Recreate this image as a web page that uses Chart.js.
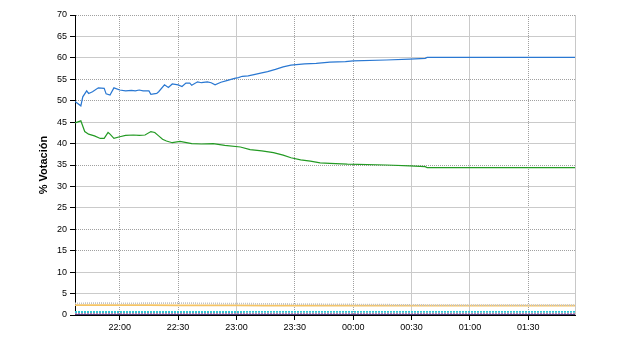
<!DOCTYPE html>
<html>
<head>
<meta charset="utf-8">
<script src="https://cdn.jsdelivr.net/npm/chart.js@4"></script>
<style>
    body { margin: 0; background: #fff; }
    #wrap { width: 640px; height: 350px; }
</style>
</head>
<body>
<div id="wrap"><canvas id="votes" width="640" height="350"></canvas></div>
<script>
// time window shown on the x axis
const axisStart = '21:37';
const axisEnd = '01:54';
const xTickLabels = ['22:00', '22:30', '23:00', '23:30', '00:00', '00:30', '01:00', '01:30'];

// main party (blue)
const blueTimes = ['21:37', '21:40', '21:41', '21:43', '21:44', '21:46', '21:49', '21:52', '21:53', '21:55', '21:57',
    '22:00', '22:03', '22:06', '22:08', '22:10', '22:12', '22:15', '22:16', '22:19', '22:20', '22:23', '22:25', '22:27',
    '22:30', '22:32', '22:34', '22:36', '22:37', '22:40', '22:42', '22:45', '22:47', '22:49', '22:52', '22:55', '22:59',
    '23:01', '23:03', '23:06', '23:09', '23:13', '23:16', '23:20', '23:24', '23:28', '23:35', '23:41', '23:48', '23:56',
    '00:00', '00:17', '00:29', '00:37', '00:38', '01:00', '01:54'];
const blueValues = [49.8, 48.8, 50.9, 52.3, 51.7, 52.1, 53.0, 52.9, 51.6, 51.3, 53.0,
    52.5, 52.3, 52.4, 52.3, 52.5, 52.3, 52.3, 51.5, 51.7, 52.1, 53.7, 53.1, 53.9,
    53.7, 53.3, 54.1, 54.1, 53.6, 54.4, 54.2, 54.4, 54.2, 53.7, 54.3, 54.7, 55.2,
    55.4, 55.7, 55.8, 56.1, 56.5, 56.8, 57.3, 57.9, 58.3, 58.6, 58.7, 59.0, 59.1,
    59.3, 59.5, 59.7, 59.9, 60.1, 60.1, 60.1];

// second party (green)
const greenTimes = ['21:37', '21:40', '21:42', '21:44', '21:47', '21:50', '21:52', '21:54', '21:55', '21:57',
    '22:00', '22:03', '22:07', '22:10', '22:13', '22:16', '22:18', '22:20', '22:22', '22:24', '22:27', '22:31',
    '22:37', '22:42', '22:48', '22:54', '23:02', '23:07', '23:13', '23:19', '23:24', '23:28', '23:33', '23:38',
    '23:43', '23:48', '23:57', '00:17', '00:29', '00:37', '00:38', '01:00', '01:54'];
const greenValues = [44.8, 45.3, 42.8, 42.2, 41.8, 41.2, 41.2, 42.6, 42.2, 41.2,
    41.6, 41.9, 42.0, 41.9, 42.0, 42.8, 42.6, 41.8, 41.0, 40.6, 40.2, 40.5,
    40.0, 39.9, 40.0, 39.6, 39.2, 38.6, 38.3, 37.9, 37.3, 36.7, 36.2, 35.9,
    35.5, 35.4, 35.2, 35.0, 34.8, 34.6, 34.4, 34.4, 34.4];

// small parties
const minorTimes = ['21:37', '21:50', '22:00', '22:15', '22:30', '22:45', '23:00', '23:15', '23:30', '23:45',
    '00:00', '00:15', '00:30', '00:45', '01:00', '01:15', '01:30', '01:54'];
const grayValues = [2.7, 2.8, 2.7, 2.75, 2.8, 2.7, 2.65, 2.6, 2.55, 2.5, 2.45, 2.4, 2.35, 2.3, 2.3, 2.3, 2.3, 2.3];
const yellowValues = [2.3, 2.3, 2.3, 2.3, 2.25, 2.25, 2.25, 2.2, 2.2, 2.2, 2.2, 2.2, 2.2, 2.2, 2.2, 2.2, 2.2, 2.2];
const cyanValues = [0.7, 0.7, 0.7, 0.7, 0.7, 0.7, 0.7, 0.72, 0.72, 0.72, 0.72, 0.75, 0.75, 0.75, 0.75, 0.75, 0.75, 0.75];
const purpleValues = [0.3, 0.3, 0.3, 0.3, 0.3, 0.3, 0.3, 0.3, 0.3, 0.3, 0.3, 0.3, 0.3, 0.3, 0.3, 0.3, 0.3, 0.3];
const navyValues = [0.12, 0.12, 0.12, 0.12, 0.12, 0.12, 0.12, 0.12, 0.12, 0.12, 0.12, 0.12, 0.12, 0.12, 0.12, 0.12, 0.12, 0.12];

// minutes relative to 22:00, times after midnight go on the next day
function toMin(t) {
    let [h, m] = t.split(':').map(Number);
    if (h < 12) h += 24;
    return h * 60 + m - 22 * 60;
}

function points(times, values) {
    return times.map((t, i) => ({ x: toMin(t), y: values[i] }));
}

function line(label, times, values, color, width, dash) {
    return {
        label: label,
        data: points(times, values),
        borderColor: color,
        borderWidth: width,
        borderDash: dash || [],
        pointRadius: 0,
        tension: 0,
        fill: false
    };
}

// the reference grid mixes dotted dark lines and solid light lines
const dottedY = [70, 55, 50, 35, 20, 15];
const dottedX = ['22:00', '22:30', '23:30', '00:00', '01:30'].map(toMin);

const tickFont = { family: '"Liberation Sans", Arial, sans-serif', size: 9 };

const rightEdge = {
    id: 'rightEdge',
    afterDatasetsDraw(chart) {
        const a = chart.chartArea;
        const ctx = chart.ctx;
        ctx.save();
        ctx.strokeStyle = '#c8c8c8';
        ctx.lineWidth = 1;
        ctx.beginPath();
        ctx.moveTo(Math.round(a.right) + 0.5, a.top);
        ctx.lineTo(Math.round(a.right) + 0.5, a.bottom);
        ctx.stroke();
        ctx.restore();
    }
};

const ctx = document.getElementById('votes').getContext('2d');
new Chart(ctx, {
    type: 'line',
    data: {
        datasets: [
            line('navy', minorTimes, navyValues, '#4a3f7a', 1.2),
            line('purple', minorTimes, purpleValues, '#c080b8', 1.2, [2, 1]),
            line('cyan', minorTimes, cyanValues, '#33c6d2', 1.8, [2, 1]),
            line('gray', minorTimes, grayValues, '#c4c4c4', 1.8, [1, 1]),
            line('yellow', minorTimes, yellowValues, '#f5c463', 1.8),
            line('green', greenTimes, greenValues, '#239a23', 1.2),
            line('blue', blueTimes, blueValues, '#2a78d2', 1.2)
        ]
    },
    options: {
        responsive: false,
        animation: false,
        devicePixelRatio: 1,
        layout: { padding: { top: 15, right: 65, left: 0, bottom: 0 } },
        plugins: {
            legend: { display: false },
            tooltip: { enabled: false }
        },
        scales: {
            x: {
                type: 'linear',
                min: toMin(axisStart),
                max: toMin(axisEnd),
                afterBuildTicks: axis => {
                    axis.ticks = xTickLabels.map(t => ({ value: toMin(t) }));
                },
                afterFit: s => { s.height = 35; },
                ticks: {
                    color: '#000',
                    font: tickFont,
                    padding: 2,
                    maxRotation: 0,
                    autoSkip: false,
                    callback: (v, i) => xTickLabels[i]
                },
                grid: {
                    color: c => (c.tick && dottedX.includes(c.tick.value)) ? '#a0a0a0' : '#cacaca',
                    tickColor: '#000',
                    tickLength: 5
                },
                border: {
                    color: '#000',
                    dash: c => (c.tick && dottedX.includes(c.tick.value)) ? [1, 1] : []
                }
            },
            y: {
                min: 0,
                max: 70,
                afterFit: s => { s.width = 75; },
                ticks: {
                    stepSize: 5,
                    color: '#000',
                    font: tickFont,
                    padding: 3
                },
                grid: {
                    color: c => {
                        if (!c.tick || c.tick.value === 0) return 'rgba(0,0,0,0)';
                        return dottedY.includes(c.tick.value) ? '#a0a0a0' : '#cacaca';
                    },
                    tickColor: '#000',
                    tickLength: 5
                },
                border: {
                    color: '#000',
                    dash: c => (c.tick && dottedY.includes(c.tick.value)) ? [1, 1] : []
                },
                title: {
                    display: true,
                    text: '% Votación',
                    color: '#000',
                    font: { family: '"Liberation Sans", Arial, sans-serif', size: 11, weight: 'bold' },
                    padding: { top: 37, bottom: 0 }
                }
            }
        }
    },
    plugins: [rightEdge]
});
</script>
</body>
</html>
